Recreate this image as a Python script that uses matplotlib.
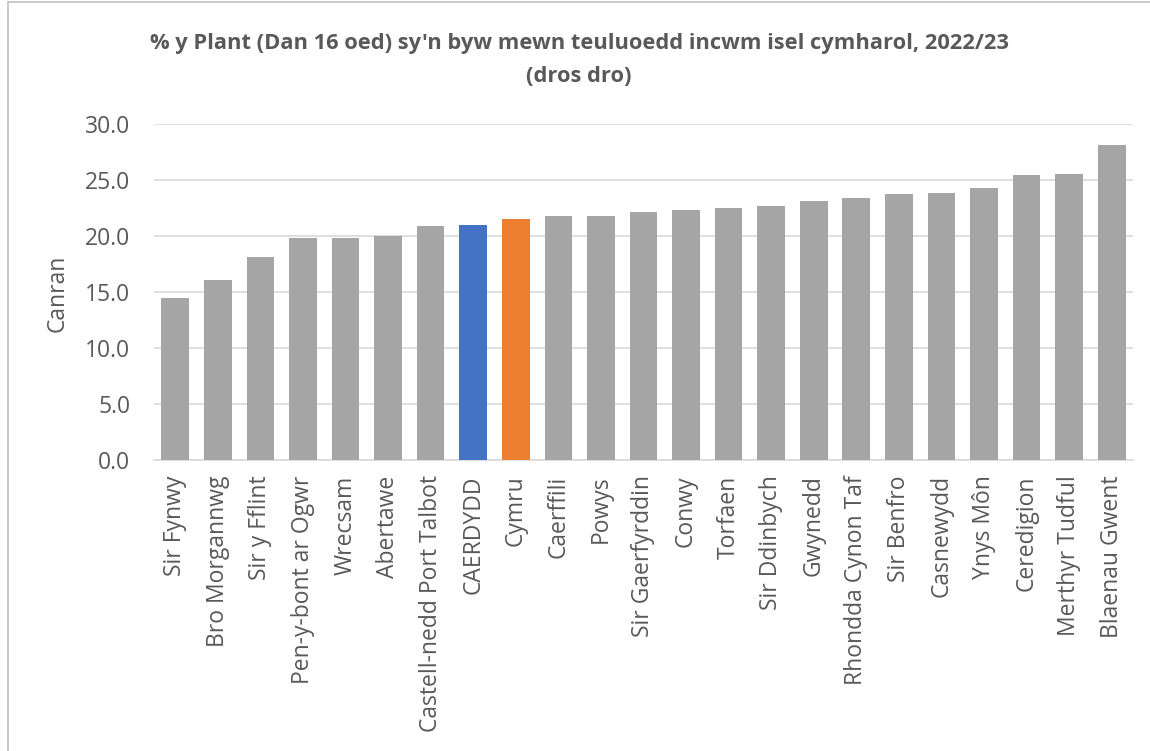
import matplotlib.pyplot as plt
from matplotlib.patches import Rectangle

plt.rcParams['font.family'] = ['Open Sans', 'DejaVu Sans']

# Data
ardaloedd = ["Sir Fynwy", "Bro Morgannwg", "Sir y Fflint", "Pen-y-bont ar Ogwr",
             "Wrecsam", "Abertawe", "Castell-nedd Port Talbot", "CAERDYDD", "Cymru",
             "Caerffili", "Powys", "Sir Gaerfyrddin", "Conwy", "Torfaen",
             "Sir Ddinbych", "Gwynedd", "Rhondda Cynon Taf", "Sir Benfro",
             "Casnewydd", "Ynys Môn", "Ceredigion", "Merthyr Tudful", "Blaenau Gwent"]
canran = [14.5, 16.1, 18.1, 19.8, 19.8, 20.0, 20.9, 21.0, 21.5,
          21.8, 21.8, 22.1, 22.3, 22.5, 22.7, 23.1, 23.4, 23.7,
          23.8, 24.3, 25.4, 25.5, 28.1]
yticks = [0, 5, 10, 15, 20, 25, 30]

lliwiau = []
for a in ardaloedd:
    if a == "CAERDYDD":
        lliwiau.append("#4472c4")
    elif a == "Cymru":
        lliwiau.append("#ed7d31")
    else:
        lliwiau.append("#a5a5a5")

llwyd = "#595959"

fig = plt.figure(figsize=(11.5, 7.51), dpi=100)
ax = fig.add_axes([0.1339, 0.3875, 0.8513, 0.4475])

ax.bar(range(len(ardaloedd)), canran, width=0.65, color=lliwiau, zorder=3)
ax.set_xlim(-0.5, len(ardaloedd) - 0.5)
ax.set_ylim(0, 30)
ax.set_yticks(yticks)
ax.set_yticklabels([f"{v:.1f}" for v in yticks])
ax.set_xticks(range(len(ardaloedd)))
ax.set_xticklabels(ardaloedd, rotation=90, fontsize=16.5, color=llwyd)
ax.tick_params(axis="y", labelsize=16.5, labelcolor=llwyd, length=0, pad=17)
ax.tick_params(axis="x", length=0, pad=11)
ax.yaxis.grid(True, color="#d9d9d9", linewidth=1.2, zorder=0)
for s in ["top", "right", "left"]:
    ax.spines[s].set_visible(False)
ax.spines["bottom"].set_color("#d9d9d9")
ax.spines["bottom"].set_linewidth(1.2)

fig.text(58 / 1150, 1 - 293 / 751, "Canran", rotation=90, ha="center", va="center",
         fontsize=16.5, color=llwyd)

# teitl
t1 = fig.text(579 / 1150, 1 - 44 / 751,
              "% y Plant (Dan 16 oed) sy'n byw mewn teuluoedd incwm isel cymharol, 2022/23",
              ha="center", va="center", fontsize=14, fontweight="bold", color=llwyd)
t2 = fig.text(579 / 1150, 1 - 76 / 751, "(dros dro)", ha="center", va="center",
              fontsize=14, fontweight="bold", color=llwyd)
r = fig.canvas.get_renderer()
maint = 14 * 862 / t1.get_window_extent(r).width
t1.set_fontsize(maint)
t2.set_fontsize(maint)

# ffrâm y siart
fig.patches.append(Rectangle((0.007, -0.05), 1.1, 1.047, transform=fig.transFigure,
                             fill=False, edgecolor="#bfbfbf", linewidth=1.2))

plt.savefig("out.png", dpi=100)
